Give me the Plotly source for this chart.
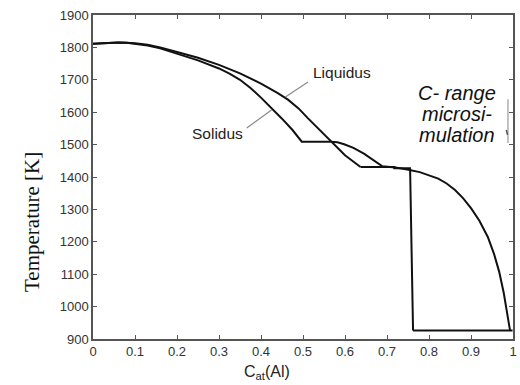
import plotly.graph_objects as go

# Liquidus (upper branch from pure Fe, continuing down to the 1431 K plateau)
liq_x = [0, 0.02, 0.04, 0.06, 0.08, 0.1, 0.13, 0.16, 0.2, 0.25, 0.3, 0.35, 0.4, 0.44, 0.465, 0.49, 0.512, 0.54, 0.566, 0.6, 0.637]
liq_T = [1811, 1813, 1814.5, 1815, 1814.5, 1813, 1808, 1800, 1786, 1768, 1746, 1720, 1688, 1659, 1638, 1611, 1581, 1544, 1509, 1467, 1431]

# Solidus (lower branch from pure Fe, with 1509 K plateau)
sol_x = [0, 0.02, 0.04, 0.06, 0.08, 0.1, 0.13, 0.16, 0.2, 0.25, 0.3, 0.325, 0.35, 0.375, 0.4, 0.425, 0.45, 0.475, 0.497, 0.566]
sol_T = [1811, 1813, 1814.5, 1815, 1814.5, 1812, 1806, 1797, 1781, 1760, 1735, 1719, 1700, 1675, 1645, 1613, 1580, 1545, 1509, 1509]

# Arc after the peritectic and the Al-rich liquidus down to the eutectic
arc_x = [0.566, 0.582, 0.598, 0.62, 0.645, 0.668, 0.689, 0.72, 0.745, 0.778, 0.802, 0.822, 0.842, 0.862, 0.881, 0.9, 0.92, 0.94, 0.955, 0.967, 0.978, 0.987, 0.993]
arc_T = [1509, 1507, 1501, 1490, 1472, 1452, 1433, 1429, 1424, 1415, 1405, 1395, 1380, 1360, 1335, 1304, 1265, 1215, 1162, 1108, 1042, 976, 926]

# Horizontal plateaus and vertical line
plat1_x = [0.637, 0.72]
plat1_T = [1431, 1431]
plat2_x = [0.715, 0.757]
plat2_T = [1427, 1427]
vert_x = [0.755, 0.762]
vert_T = [1426, 926]
eut_x = [0.762, 0.999]
eut_T = [926, 926]

# Label leader lines
liq_lead_x = [0.512, 0.458]
liq_lead_T = [1693, 1647]
sol_lead_x = [0.366, 0.425]
sol_lead_T = [1551, 1607]

x_ticks = [0, 0.1, 0.2, 0.3, 0.4, 0.5, 0.6, 0.7, 0.8, 0.9, 1]
x_tick_labels = ["0", "0.1", "0.2", "0.3", "0.4", "0.5", "0.6", "0.7", "0.8", "0.9", "1"]
y_ticks = [900, 1000, 1100, 1200, 1300, 1400, 1500, 1600, 1700, 1800, 1900]

fig = go.Figure()
line_style = dict(color="#111111", width=2)
for xs, ts in [(liq_x, liq_T), (sol_x, sol_T), (arc_x, arc_T), (plat1_x, plat1_T),
               (plat2_x, plat2_T), (vert_x, vert_T), (eut_x, eut_T)]:
    fig.add_trace(go.Scatter(x=xs, y=ts, mode="lines", line=line_style,
                             showlegend=False, hoverinfo="skip"))
for xs, ts in [(liq_lead_x, liq_lead_T), (sol_lead_x, sol_lead_T)]:
    fig.add_trace(go.Scatter(x=xs, y=ts, mode="lines", line=dict(color="#8a8a8a", width=1.2),
                             showlegend=False, hoverinfo="skip"))

# bracket marking the concentration range
fig.add_shape(type="line", x0=0.988, x1=0.988, y0=1505, y1=1640, xref="x", yref="y",
              line=dict(color="#b0b0b0", width=1.5))
fig.add_shape(type="line", x0=0.984, x1=0.987, y0=1545, y1=1530, xref="x", yref="y",
              line=dict(color="#555555", width=1.5))

fig.add_annotation(x=0.592, y=1724, text="Liquidus", showarrow=False,
                   font=dict(family="Liberation Sans", size=15.5, color="#222222"))
fig.add_annotation(x=0.297, y=1533, text="Solidus", showarrow=False,
                   font=dict(family="Liberation Sans", size=15.5, color="#222222"))
for txt, ty in [("C- range", 1660), ("microsi-", 1596), ("mulation", 1530)]:
    fig.add_annotation(x=0.866, y=ty, text="<i>" + txt + "</i>", showarrow=False,
                       font=dict(family="Liberation Sans", size=20, color="#111111"))

fig.add_annotation(xref="paper", yref="paper", x=-0.177, y=0.36, text="Temperature [K]",
                   textangle=-90, showarrow=False,
                   font=dict(family="Liberation Serif", size=21, color="#111111"))
fig.add_annotation(xref="paper", yref="paper", x=0.415, y=-0.102, text="C<sub>at</sub>(Al)",
                   showarrow=False, yanchor="middle",
                   font=dict(family="Liberation Sans", size=16, color="#222222"))

axis_common = dict(showline=True, linecolor="#555555", linewidth=1.5, mirror="ticks",
                   ticks="inside", ticklen=4, tickwidth=1.2, tickcolor="#555555",
                   showgrid=False, zeroline=False,
                   tickfont=dict(family="Liberation Sans", size=13, color="#333333"))
fig.update_xaxes(range=[0, 1], tickvals=x_ticks, ticktext=x_tick_labels, **axis_common)
fig.update_yaxes(range=[900, 1900], tickvals=y_ticks, **axis_common)

fig.update_layout(width=520, height=385, margin=dict(l=93, r=3, t=15, b=46),
                  paper_bgcolor="white", plot_bgcolor="white")
fig.write_html("out.html")
